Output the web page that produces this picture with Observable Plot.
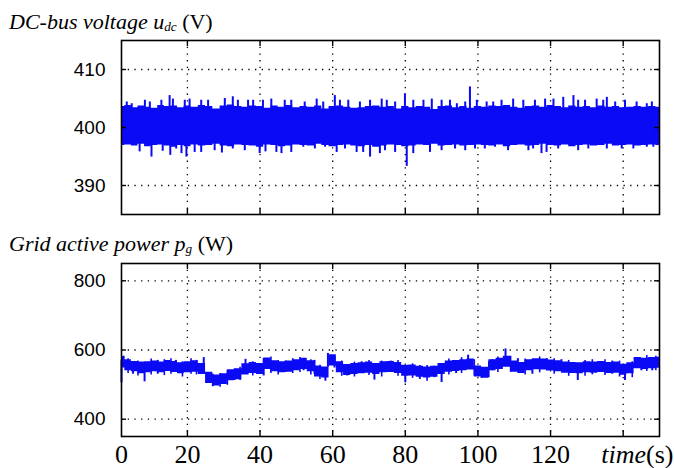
<!DOCTYPE html>
<html><head><meta charset="utf-8">
<script src="https://cdn.jsdelivr.net/npm/d3@7"></script>
<script src="https://cdn.jsdelivr.net/npm/@observablehq/plot@0.6"></script>
<style>
html,body{margin:0;padding:0;background:#fff}
body{width:674px;height:468px;position:relative;overflow:hidden}
.title{position:absolute;left:9px;font-family:"Liberation Serif","Times New Roman",serif;font-size:22px;line-height:1;white-space:nowrap;color:#000}
.title sub{font-size:0.6em;vertical-align:-0.18em;line-height:0}
#p1{position:absolute;left:0;top:32px}
#p2{position:absolute;left:0;top:255px}
</style></head>
<body>
<div class="title" style="top:11px"><i>DC-bus voltage u<sub>dc</sub></i> (V)</div>
<div class="title" style="top:233px"><i>Grid active power p<sub>g</sub></i> (W)</div>
<div id="p1"></div>
<div id="p2"></div>
<script>
// ---- time grid of the envelopes (s) ----
const t2 = [0,2,4,6,8,10,12,14,16,18,20,22,24,26,28,30,32,34,36,38,40,42,44,46,48,50,52,54,56,58,60,62,64,66,68,70,72,74,76,78,80,82,84,86,88,90,92,94,96,98,100,102,104,106,108,110,112,114,116,118,120,122,124,126,128,130,132,134,136,138,140,142,144,146,148,150];

// ---- DC-bus voltage: envelope of the ripple band (V) ----
const uHi = [403.6,403.8,403.4,403.7,403.5,403.3,403.8,403.6,403.7,403.4,403.7,403.5,403.8,403.6,403.2,403.7,403.9,403.6,403.5,403.7,403.6,403.3,403.7,403.5,403.8,403.4,403.6,403.5,403.7,403.2,403.6,403.7,403.5,403.3,403.4,403.6,403.7,403.5,403.6,403.2,403.6,403.4,403.6,403.5,403.1,403.6,403.7,403.4,403.6,403.3,403.6,403.5,403.7,403.6,403.8,403.5,403.3,403.6,403.7,403.5,403.8,403.6,403.4,403.7,403.5,403.6,403.4,403.7,403.5,403.6,403.4,403.5,403.6,403.5,403.6,403.5];
const uLo = [396.9,397.0,396.8,397.1,396.7,396.9,397.0,396.8,396.6,396.9,396.7,397.0,396.8,396.9,397.1,396.8,396.7,397.0,396.9,396.8,396.6,397.0,396.9,396.7,396.8,397.0,396.9,396.8,397.1,396.9,396.7,396.9,397.0,396.8,396.7,396.9,396.6,396.8,397.0,396.9,396.7,396.8,397.0,396.9,397.1,396.8,396.9,397.0,396.8,396.9,397.0,396.9,396.8,397.0,396.7,396.9,397.0,396.8,396.9,397.1,396.9,396.8,397.0,396.7,396.9,397.0,396.8,396.9,397.1,396.8,396.9,397.0,396.8,396.9,397.0,396.9];
const uMid = 400;
// ripple peaks above / below the band
const uUpT = [1.6,3.1,7.1,8.6,12.1,14.6,15.6,19.2,20.6,23.8,25.7,30.3,32.5,33.9,36.7,38.1,40.8,43.1,46.8,48.6,52.3,55.6,57.4,60.6,62,64.3,67.5,70.3,73.5,74.9,77.2,79.9,82.2,85,87.3,90,92.3,94.2,96.5,97.8,99.7,102.4,104.2,106.5,109.7,112.5,115.7,118.5,120.8,123.5,126.3,127.6,129.5,132.7,134.5,135.5,137.8,140.5,143.7,146.5,147.9];
const uUpV = [404.4,404.1,404.7,404.4,404.7,405.5,404.9,404.7,404.9,404.7,404.7,405.0,405.3,404.7,404.7,404.7,404.7,404.9,404.7,404.7,404.4,404.9,404.4,405.5,404.7,404.7,404.4,404.7,404.9,404.7,404.4,405.8,404.7,404.7,404.9,404.7,404.7,404.1,404.4,407.0,404.7,404.4,404.4,404.7,404.9,404.7,404.7,404.9,404.9,405.2,405.5,404.7,404.7,404.9,404.7,405.2,404.4,404.7,404.4,404.1,404.4];
const uDnT = [5.5,9.1,12.5,14.8,16.6,18.2,19.7,22,23.8,27.5,29.5,32.5,35.8,39.9,41.5,44.5,45.9,48.6,51.9,55.1,57.9,61.1,63.4,66.6,68.4,70.3,73,74.4,77.2,80.4,82.2,86.8,90,93.7,96.5,99.2,101.9,104.7,108.3,113.9,115.2,117.5,118.9,122.1,127.6,130.4,135.5,139.6,142.8,146.5,148.3];
const uDnV = [395.8,394.9,395.9,395.2,396.3,395.5,394.9,395.7,395.7,396.0,395.6,396.3,396.0,395.5,395.8,395.7,395.5,395.7,396.6,396.3,396.6,395.7,396.3,395.7,395.7,394.9,395.5,396.0,395.7,393.3,395.5,395.7,396.0,396.3,396.0,396.3,396.3,396.6,396.0,396.0,396.3,395.5,395.7,396.3,396.0,396.3,396.3,396.3,396.3,396.6,396.6];

// ---- Grid active power: envelope of the trace (W) ----
const pHi = [581,572,567,565,566,568,565,570,567,563,566,569,561,536,528,531,543,546,560,564,561,577,569,566,568,572,576,569,554,551,586,566,558,561,563,565,561,566,567,564,556,557,553,551,553,561,568,570,572,574,554,550,572,576,582,568,564,572,575,574,571,569,565,564,563,566,565,567,564,565,559,563,578,576,578,579];
const pLo = [548,540,537,531,534,537,534,538,535,531,534,536,529,503,496,500,511,514,528,532,529,544,537,534,536,540,544,537,522,519,554,534,526,529,531,533,529,534,535,532,524,525,521,519,521,529,536,538,540,542,522,518,540,544,550,536,532,540,543,542,539,537,533,532,531,534,533,535,532,533,527,531,546,544,546,547];
// short excursions of the power trace (larger ones)
const pSpT  = [0,0.6,3.5,7,11,16.5,24.5,27,33,36,41,47,52,55,58,58.7,60.5,64,68,71.5,76,80,84,88,90,94,97.3,101,104,107.6,111,115,119,123,127.5,133,137,140.5,145,148];
const pSpLo = [505,560,530,508,530,535,540,494,512,530,525,535,540,530,510,550,548,525,532,513,535,505,515,520,506,532,545,518,540,555,538,530,540,538,512,535,530,512,540,540];
const pSpHi = [570,582,565,550,570,570,578,530,545,573,575,568,575,570,540,590,582,555,566,548,568,540,555,553,540,566,585,545,572,603,575,572,575,572,550,565,568,550,576,575];
// smaller jitter of the power trace
const pJtT  = [2,5,9,13,15,18.5,21,22.5,29,31,34.5,38,43,45,49,51,54,56.5,62.5,66,70,73.5,78,82,86,92,95.5,99,103,105.5,109,113,117,121,125,129.5,131.5,135,139,142.5,146.5,149];
const pJtLo = [532,525,528,526,530,522,530,528,492,498,512,525,532,528,532,535,528,515,524,522,526,522,524,518,510,528,532,525,520,535,536,528,534,530,524,524,528,526,522,520,538,540];
const pJtHi = [575,568,574,572,575,566,575,570,532,540,550,566,580,570,575,578,572,556,568,565,570,568,570,560,555,574,578,572,566,580,582,574,580,575,570,570,572,572,568,566,584,582];

// ---- axes ----
const xGrid = [20,40,60,80,100,120,140];
const xLabels = [0,20,40,60,80,100,120];
const xTitle = "time(s)";
const xMax = 150;
const uTicks = [390,400,410];
const pTicks = [400,600,800];

const BLUE = "#0a0af5";
const W = 674, ML = 121, MR = 15;
// the original axis is slightly compressed between 0 and 20 s
const X0 = 1.85;
const xScale = {
  domain: [X0, xMax],
  transform: t => (t < 20 ? X0 + t * (20 - X0) / 20 : t),
  axis: null
};
const IW = W - ML - MR;

function common(ticks, H, extra) {
  const grid = {stroke: "#000", strokeOpacity: 1, strokeWidth: 1.3, strokeDasharray: "1.3,5.4"};
  return [
    Plot.gridX(xGrid, grid),
    Plot.gridY(ticks, grid),
    ...extra,
    Plot.frame({stroke: "#000", strokeWidth: 1.6}),
    Plot.ruleX(xGrid, {insetTop: H - 6, strokeWidth: 1.4}),
    Plot.ruleX(xGrid, {insetBottom: H - 6, strokeWidth: 1.4}),
    Plot.ruleY(ticks, {insetRight: IW - 5, strokeWidth: 1.4}),
    Plot.ruleY(ticks, {insetLeft: IW - 5, strokeWidth: 1.4}),
    Plot.axisY(ticks, {tickSize: 0, tickPadding: 16, fontSize: 19, fontFamily: "Liberation Sans, Arial, sans-serif", fill: "#000", label: null, tickFormat: d => String(d)})
  ];
}

const env1 = t2.map((t, i) => ({t, hi: uHi[i], lo: uLo[i]}));
const up1 = uUpT.map((t, i) => ({t, v: uUpV[i]}));
const dn1 = uDnT.map((t, i) => ({t, v: uDnV[i]}));

const H1 = 174;
const chart1 = Plot.plot({
  width: W, height: 190, marginLeft: ML, marginRight: MR, marginTop: 8, marginBottom: 8,
  x: xScale,
  y: {domain: [385, 415]},
  marks: common(uTicks, H1, [
    Plot.areaY(env1, {x: "t", y1: "lo", y2: "hi", fill: BLUE, curve: "step"}),
    Plot.ruleX(up1, {x: "t", y1: () => uMid, y2: "v", stroke: BLUE, strokeWidth: 2}),
    Plot.ruleX(dn1, {x: "t", y1: () => uMid, y2: "v", stroke: BLUE, strokeWidth: 2})
  ])
});
document.getElementById("p1").append(chart1);

const env2 = t2.map((t, i) => ({t, hi: pHi[i], lo: pLo[i]}));
const sp2 = pSpT.map((t, i) => ({t, lo: pSpLo[i], hi: pSpHi[i]}));
const jt2 = pJtT.map((t, i) => ({t, lo: pJtLo[i], hi: pJtHi[i]}));
const H2 = 173;
const chart2 = Plot.plot({
  width: W, height: 213, marginLeft: ML, marginRight: MR, marginTop: 8, marginBottom: 32,
  x: xScale,
  y: {domain: [350, 850]},
  marks: [
    ...common(pTicks, H2, [
      Plot.areaY(env2, {x: "t", y1: "lo", y2: "hi", fill: BLUE, curve: "step"}),
      Plot.ruleX(sp2, {x: "t", y1: "lo", y2: "hi", stroke: BLUE, strokeWidth: 2}),
      Plot.ruleX(jt2, {x: "t", y1: "lo", y2: "hi", stroke: BLUE, strokeWidth: 1.6})
    ]),
    Plot.axisX(xLabels, {anchor: "bottom", tickSize: 0, tickPadding: 8, fontSize: 26, fontFamily: "Liberation Serif, Times New Roman, serif", fill: "#000", label: null, tickFormat: d => String(d)}),
    Plot.text([{t: xMax, s: xTitle}], {x: "t", text: "s", frameAnchor: "bottom", lineAnchor: "top", textAnchor: "end", dx: 14, dy: 8, fontSize: 26, fontFamily: "Liberation Serif, Times New Roman, serif", fill: "#000"})
  ]
});
document.getElementById("p2").append(chart2);

// italic "time", upright "(s)"
chart2.querySelectorAll("text").forEach(el => {
  if (el.textContent === xTitle) {
    const ns = "http://www.w3.org/2000/svg";
    const target = el.querySelector("tspan") || el;
    target.textContent = "";
    const a = document.createElementNS(ns, "tspan");
    a.setAttribute("font-style", "italic");
    a.textContent = "time";
    const b = document.createElementNS(ns, "tspan");
    b.textContent = "(s)";
    target.append(a, b);
  }
});
</script>
</body></html>
